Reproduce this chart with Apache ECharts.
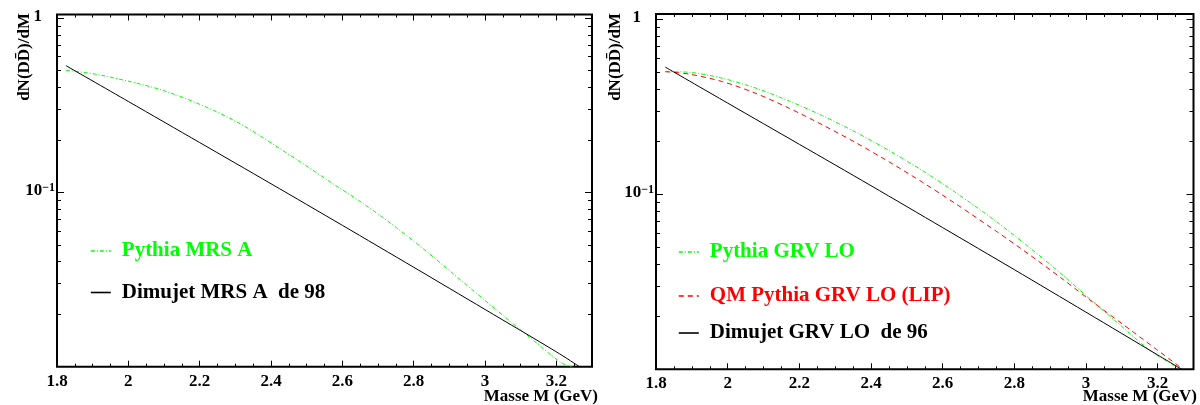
<!DOCTYPE html>
<html>
<head>
<meta charset="utf-8">
<script src="https://cdn.jsdelivr.net/npm/echarts@6/dist/echarts.min.js"></script>
<style>html,body{margin:0;padding:0;background:#fff}#c{width:1200px;height:405px}</style>
</head>
<body>
<div id="c"></div>
<script>
// ---- axis ranges & ticks ----
const xRange = [1.8, 3.3];
const yRangeLeft = [0.01, 1.047];
const yRangeRight = [0.01, 1.072];
const xMajorTicks = [1.8, 2, 2.2, 2.4, 2.6, 2.8, 3, 3.2];
const xMinorTicks = [1.85, 1.9, 1.95, 2.05, 2.1, 2.15, 2.25, 2.3, 2.35, 2.45, 2.5, 2.55,
                     2.65, 2.7, 2.75, 2.85, 2.9, 2.95, 3.05, 3.1, 3.15, 3.25];
const yMajorTicks = [0.1, 1];
const yMinorTicks = [0.02, 0.03, 0.04, 0.05, 0.06, 0.07, 0.08, 0.09,
                     0.2, 0.3, 0.4, 0.5, 0.6, 0.7, 0.8, 0.9];
const xTitle = 'Masse M (GeV)';
const yTitle = 'dN(DD\u0304)/dM';

// ---- left panel (MRS A) ----
const leftNames = ['Pythia MRS A', 'Dimujet MRS A  de 98'];
const leftPythia = [[1.825, 0.501], [1.921, 0.471], [2.108, 0.378], [2.294, 0.260], [2.481, 0.150],
                    [2.565, 0.1151], [2.659, 0.0861], [2.752, 0.0627], [2.846, 0.0441], [2.939, 0.0305],
                    [3.033, 0.0211], [3.126, 0.0147], [3.219, 0.0104], [3.271, 0.0096]];
const leftDimujet = [[1.825, 0.533], [2.0, 0.332], [2.2, 0.193], [2.4, 0.112], [2.6, 0.0647],
                     [2.8, 0.0372], [3.0, 0.0213], [3.2, 0.01217], [3.265, 0.0100]];

// ---- right panel (GRV LO) ----
const rightNames = ['Pythia GRV LO', 'QM Pythia GRV LO (LIP)', 'Dimujet GRV LO  de 96'];
const rightPythia = [[1.826, 0.502], [1.893, 0.498], [1.986, 0.460], [2.079, 0.404], [2.172, 0.341],
                     [2.265, 0.281], [2.358, 0.226], [2.451, 0.1775], [2.544, 0.1364], [2.637, 0.1021],
                     [2.751, 0.0695], [2.844, 0.0493], [2.937, 0.0343], [3.011, 0.0252], [3.086, 0.0186],
                     [3.179, 0.0128], [3.258, 0.0102]];
const rightQM = [[1.826, 0.502], [1.893, 0.486], [1.986, 0.440], [2.079, 0.377], [2.172, 0.310],
                 [2.265, 0.249], [2.358, 0.197], [2.451, 0.153], [2.544, 0.117], [2.637, 0.0881],
                 [2.751, 0.0612], [2.844, 0.0449], [2.937, 0.0325], [3.011, 0.0249], [3.104, 0.0180],
                 [3.197, 0.01298], [3.271, 0.0100]];
const rightDimujet = [[1.826, 0.533], [2.0, 0.332], [2.2, 0.193], [2.4, 0.112], [2.6, 0.0645],
                      [2.8, 0.0371], [3.0, 0.0212], [3.2, 0.01208], [3.267, 0.0100]];

// ---- styling ----
const FONT = '"Liberation Serif", "Times New Roman", serif';
const GREEN = '#00ff00', RED = '#ff0000', BLACK = '#000000';

function xFmt(v) { return String(+(+v).toFixed(2)); }
function yFmt(v) {
  const e = Math.round(Math.log10(v));
  return e === 0 ? '{b|1}{sp| }' : '{b|10}{e|' + String(e).replace('-', '\u2212') + '}';
}
const yRich = {
  b: {fontFamily: FONT, fontWeight: 'bold', fontSize: 17, color: '#000', verticalAlign: 'bottom', padding: [0, 0, 3, 0]},
  e: {fontFamily: FONT, fontWeight: 'bold', fontSize: 12, color: '#000', verticalAlign: 'top', lineHeight: 12, padding: [0, 0, 12, 0]},
  sp: {fontSize: 12, width: 13, verticalAlign: 'top', lineHeight: 12, padding: [0, 0, 12, 0]}
};

function tick(values, len) {
  return {show: true, inside: true, length: len, customValues: values, lineStyle: {color: '#000', width: 1}};
}
function makeX(grid) {
  const base = {gridIndex: grid, type: 'value', min: xRange[0], max: xRange[1], splitLine: {show: false},
                axisLine: {show: false, onZero: false}, axisLabel: {show: false}};
  return [
    Object.assign({}, base, {position: 'bottom', axisTick: tick(xMajorTicks, 6),
      axisLabel: {show: true, customValues: xMajorTicks, margin: 6, color: '#000', fontFamily: FONT,
                  fontWeight: 'bold', fontSize: 17, formatter: xFmt}}),
    Object.assign({}, base, {position: 'bottom', axisTick: tick(xMinorTicks, 3)}),
    Object.assign({}, base, {position: 'top', axisTick: tick(xMajorTicks, 6)}),
    Object.assign({}, base, {position: 'top', axisTick: tick(xMinorTicks, 3)})
  ];
}
function makeY(grid, range) {
  const base = {gridIndex: grid, type: 'log', logBase: 10, min: range[0], max: range[1], splitLine: {show: false},
                axisLine: {show: false, onZero: false}, axisLabel: {show: false}};
  return [
    Object.assign({}, base, {position: 'left', axisTick: tick(yMajorTicks, 7),
      axisLabel: {show: true, customValues: yMajorTicks, margin: 2, align: 'right', formatter: yFmt, rich: yRich}}),
    Object.assign({}, base, {position: 'left', axisTick: tick(yMinorTicks, 4)}),
    Object.assign({}, base, {position: 'right', axisTick: tick(yMajorTicks, 7)}),
    Object.assign({}, base, {position: 'right', axisTick: tick(yMinorTicks, 4)})
  ];
}
function line(name, data, xi, color, type) {
  return {name: name, type: 'line', xAxisIndex: xi, yAxisIndex: xi, data: data, symbol: 'none',
          showSymbol: false, smooth: 0.3, clip: true,
          lineStyle: {color: color, width: 1, type: type}, itemStyle: {color: color},
          silent: true, animation: false};
}
function legend(name, color, left, cy) {
  return {show: true, left: left, top: cy - 12, padding: 0, itemWidth: 20, itemHeight: 14, selectedMode: false,
          data: [{name: name, textStyle: {color: color}}],
          itemStyle: {opacity: 0},
          lineStyle: {width: 1.6},
          textStyle: {fontFamily: FONT, fontWeight: 'bold', fontSize: 21, lineHeight: 24, padding: [0, 0, 0, 6]}};
}
const DASHDOT = [4, 2, 1, 2];
const DASH = [5, 4];

const chart = echarts.init(document.getElementById('c'), null, {renderer: 'canvas'});
chart.setOption({
  backgroundColor: '#ffffff',
  animation: false,
  grid: [
    {left: 57, top: 14.5, width: 535, height: 352.2, show: true, borderColor: '#000', borderWidth: 2,
     backgroundColor: 'transparent', containLabel: false, outerBoundsMode: 'none'},
    {left: 656, top: 14, width: 537.5, height: 355.3, show: true, borderColor: '#000', borderWidth: 2,
     backgroundColor: 'transparent', containLabel: false, outerBoundsMode: 'none'}
  ],
  xAxis: makeX(0).concat(makeX(1)),
  yAxis: makeY(0, yRangeLeft).concat(makeY(1, yRangeRight)),
  legend: [
    legend(leftNames[0], GREEN, 90, 251),
    legend(leftNames[1], BLACK, 90, 292.5),
    legend(rightNames[0], GREEN, 678, 252),
    legend(rightNames[1], RED, 678, 296),
    legend(rightNames[2], BLACK, 678, 333)
  ],
  series: [
    line(leftNames[0], leftPythia, 0, GREEN, DASHDOT),
    line(leftNames[1], leftDimujet, 0, BLACK, 'solid'),
    line(rightNames[0], rightPythia, 4, GREEN, DASHDOT),
    line(rightNames[1], rightQM, 4, RED, DASH),
    line(rightNames[2], rightDimujet, 4, BLACK, 'solid')
  ],
  graphic: [
    {type: 'text', x: 24.5, y: 13, rotation: Math.PI / 2,
     style: {text: yTitle, align: 'right', verticalAlign: 'middle', font: 'bold 17px ' + FONT, fill: '#000'}},
    {type: 'text', x: 615.5, y: 13, rotation: Math.PI / 2,
     style: {text: yTitle, align: 'right', verticalAlign: 'middle', font: 'bold 17px ' + FONT, fill: '#000'}},
    {type: 'text', x: 598, y: 397,
     style: {text: xTitle, align: 'right', verticalAlign: 'middle', font: 'bold 17px ' + FONT, fill: '#000'}},
    {type: 'text', x: 1197, y: 397,
     style: {text: xTitle, align: 'right', verticalAlign: 'middle', font: 'bold 17px ' + FONT, fill: '#000'}}
  ]
});
</script>
</body>
</html>
